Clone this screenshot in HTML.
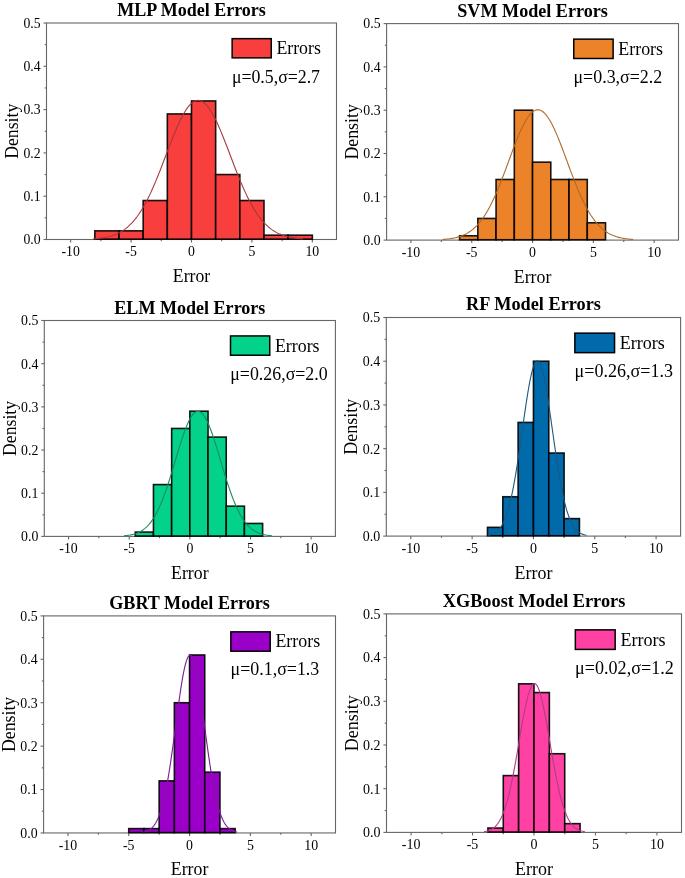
<!DOCTYPE html>
<html><head><meta charset="utf-8"><style>
html,body{margin:0;padding:0;background:#fff;}
svg{display:block;will-change:transform;}
text{font-family:"Liberation Serif", serif;fill:#000;}
</style></head><body>
<svg width="685" height="878" viewBox="0 0 685 878">
<rect width="685" height="878" fill="#fff"/>
<rect x="46.50" y="23.00" width="290.00" height="216.50" fill="none" stroke="#666" stroke-width="1.1"/>
<line x1="70.67" y1="239.50" x2="70.67" y2="242.50" stroke="#666" stroke-width="1.1"/>
<text transform="translate(70.67,256.00) scale(0.95,1.0)" text-anchor="middle" font-size="14.5">-10</text>
<line x1="131.08" y1="239.50" x2="131.08" y2="242.50" stroke="#666" stroke-width="1.1"/>
<text transform="translate(131.08,256.00) scale(0.95,1.0)" text-anchor="middle" font-size="14.5">-5</text>
<line x1="191.50" y1="239.50" x2="191.50" y2="242.50" stroke="#666" stroke-width="1.1"/>
<text transform="translate(191.50,256.00) scale(0.95,1.0)" text-anchor="middle" font-size="14.5">0</text>
<line x1="251.92" y1="239.50" x2="251.92" y2="242.50" stroke="#666" stroke-width="1.1"/>
<text transform="translate(251.92,256.00) scale(0.95,1.0)" text-anchor="middle" font-size="14.5">5</text>
<line x1="312.33" y1="239.50" x2="312.33" y2="242.50" stroke="#666" stroke-width="1.1"/>
<text transform="translate(312.33,256.00) scale(0.95,1.0)" text-anchor="middle" font-size="14.5">10</text>
<line x1="100.88" y1="239.50" x2="100.88" y2="241.30" stroke="#666" stroke-width="1.1"/>
<line x1="161.29" y1="239.50" x2="161.29" y2="241.30" stroke="#666" stroke-width="1.1"/>
<line x1="221.71" y1="239.50" x2="221.71" y2="241.30" stroke="#666" stroke-width="1.1"/>
<line x1="282.12" y1="239.50" x2="282.12" y2="241.30" stroke="#666" stroke-width="1.1"/>
<line x1="43.50" y1="239.50" x2="46.50" y2="239.50" stroke="#666" stroke-width="1.1"/>
<text transform="translate(40.60,244.30) scale(0.95,1.0)" text-anchor="end" font-size="14.5">0.0</text>
<line x1="43.50" y1="196.20" x2="46.50" y2="196.20" stroke="#666" stroke-width="1.1"/>
<text transform="translate(40.60,201.00) scale(0.95,1.0)" text-anchor="end" font-size="14.5">0.1</text>
<line x1="43.50" y1="152.90" x2="46.50" y2="152.90" stroke="#666" stroke-width="1.1"/>
<text transform="translate(40.60,157.70) scale(0.95,1.0)" text-anchor="end" font-size="14.5">0.2</text>
<line x1="43.50" y1="109.60" x2="46.50" y2="109.60" stroke="#666" stroke-width="1.1"/>
<text transform="translate(40.60,114.40) scale(0.95,1.0)" text-anchor="end" font-size="14.5">0.3</text>
<line x1="43.50" y1="66.30" x2="46.50" y2="66.30" stroke="#666" stroke-width="1.1"/>
<text transform="translate(40.60,71.10) scale(0.95,1.0)" text-anchor="end" font-size="14.5">0.4</text>
<line x1="43.50" y1="23.00" x2="46.50" y2="23.00" stroke="#666" stroke-width="1.1"/>
<text transform="translate(40.60,27.80) scale(0.95,1.0)" text-anchor="end" font-size="14.5">0.5</text>
<line x1="44.70" y1="217.85" x2="46.50" y2="217.85" stroke="#666" stroke-width="1.1"/>
<line x1="44.70" y1="174.55" x2="46.50" y2="174.55" stroke="#666" stroke-width="1.1"/>
<line x1="44.70" y1="131.25" x2="46.50" y2="131.25" stroke="#666" stroke-width="1.1"/>
<line x1="44.70" y1="87.95" x2="46.50" y2="87.95" stroke="#666" stroke-width="1.1"/>
<line x1="44.70" y1="44.65" x2="46.50" y2="44.65" stroke="#666" stroke-width="1.1"/>
<rect x="94.83" y="230.84" width="24.17" height="8.31" fill="#F93E3E" stroke="#000" stroke-opacity="0.9" stroke-width="1.6"/>
<rect x="119.00" y="230.84" width="24.17" height="8.31" fill="#F93E3E" stroke="#000" stroke-opacity="0.9" stroke-width="1.6"/>
<rect x="143.17" y="200.53" width="24.17" height="38.62" fill="#F93E3E" stroke="#000" stroke-opacity="0.9" stroke-width="1.6"/>
<rect x="167.33" y="113.93" width="24.17" height="125.22" fill="#F93E3E" stroke="#000" stroke-opacity="0.9" stroke-width="1.6"/>
<rect x="191.50" y="100.94" width="24.17" height="138.21" fill="#F93E3E" stroke="#000" stroke-opacity="0.9" stroke-width="1.6"/>
<rect x="215.67" y="174.55" width="24.17" height="64.60" fill="#F93E3E" stroke="#000" stroke-opacity="0.9" stroke-width="1.6"/>
<rect x="239.83" y="200.53" width="24.17" height="38.62" fill="#F93E3E" stroke="#000" stroke-opacity="0.9" stroke-width="1.6"/>
<rect x="264.00" y="235.17" width="24.17" height="3.98" fill="#F93E3E" stroke="#000" stroke-opacity="0.9" stroke-width="1.6"/>
<rect x="288.17" y="235.17" width="24.17" height="3.98" fill="#F93E3E" stroke="#000" stroke-opacity="0.9" stroke-width="1.6"/>
<polyline points="93.14,238.84 94.19,238.76 95.24,238.68 96.29,238.59 97.34,238.49 98.39,238.38 99.44,238.27 100.49,238.14 101.54,237.99 102.59,237.84 103.63,237.67 104.68,237.49 105.73,237.29 106.78,237.07 107.83,236.83 108.88,236.58 109.93,236.30 110.98,236.00 112.03,235.68 113.08,235.33 114.13,234.96 115.18,234.56 116.23,234.12 117.28,233.66 118.33,233.16 119.38,232.63 120.43,232.06 121.48,231.45 122.52,230.80 123.57,230.11 124.62,229.37 125.67,228.59 126.72,227.76 127.77,226.88 128.82,225.95 129.87,224.97 130.92,223.93 131.97,222.84 133.02,221.69 134.07,220.48 135.12,219.21 136.17,217.87 137.22,216.48 138.27,215.02 139.32,213.49 140.37,211.90 141.42,210.25 142.46,208.52 143.51,206.73 144.56,204.88 145.61,202.96 146.66,200.97 147.71,198.92 148.76,196.81 149.81,194.63 150.86,192.39 151.91,190.10 152.96,187.75 154.01,185.34 155.06,182.88 156.11,180.38 157.16,177.83 158.21,175.23 159.26,172.61 160.31,169.94 161.35,167.25 162.40,164.54 163.45,161.80 164.50,159.06 165.55,156.30 166.60,153.54 167.65,150.79 168.70,148.04 169.75,145.31 170.80,142.61 171.85,139.93 172.90,137.28 173.95,134.68 175.00,132.13 176.05,129.63 177.10,127.20 178.15,124.83 179.20,122.54 180.24,120.33 181.29,118.21 182.34,116.18 183.39,114.26 184.44,112.44 185.49,110.73 186.54,109.13 187.59,107.66 188.64,106.31 189.69,105.10 190.74,104.02 191.79,103.07 192.84,102.27 193.89,101.61 194.94,101.09 195.99,100.72 197.04,100.49 198.09,100.42 199.13,100.49 200.18,100.72 201.23,101.09 202.28,101.61 203.33,102.27 204.38,103.07 205.43,104.02 206.48,105.10 207.53,106.31 208.58,107.66 209.63,109.13 210.68,110.73 211.73,112.44 212.78,114.26 213.83,116.18 214.88,118.21 215.93,120.33 216.98,122.54 218.03,124.83 219.07,127.20 220.12,129.63 221.17,132.13 222.22,134.68 223.27,137.28 224.32,139.93 225.37,142.61 226.42,145.31 227.47,148.04 228.52,150.79 229.57,153.54 230.62,156.30 231.67,159.06 232.72,161.80 233.77,164.54 234.82,167.25 235.87,169.94 236.92,172.61 237.96,175.23 239.01,177.83 240.06,180.38 241.11,182.88 242.16,185.34 243.21,187.75 244.26,190.10 245.31,192.39 246.36,194.63 247.41,196.81 248.46,198.92 249.51,200.97 250.56,202.96 251.61,204.88 252.66,206.73 253.71,208.52 254.76,210.25 255.81,211.90 256.85,213.49 257.90,215.02 258.95,216.48 260.00,217.87 261.05,219.21 262.10,220.48 263.15,221.69 264.20,222.84 265.25,223.93 266.30,224.97 267.35,225.95 268.40,226.88 269.45,227.76 270.50,228.59 271.55,229.37 272.60,230.11 273.65,230.80 274.70,231.45 275.74,232.06 276.79,232.63 277.84,233.16 278.89,233.66 279.94,234.12 280.99,234.56 282.04,234.96 283.09,235.33 284.14,235.68 285.19,236.00 286.24,236.30 287.29,236.58 288.34,236.83 289.39,237.07 290.44,237.29 291.49,237.49 292.54,237.67 293.59,237.84 294.64,237.99 295.68,238.14 296.73,238.27 297.78,238.38 298.83,238.49 299.88,238.59 300.93,238.68 301.98,238.76 303.03,238.84" fill="none" stroke="#A83A3A" stroke-width="1.1"/>
<text transform="translate(191.50,15.70)" text-anchor="middle" font-size="18.0" font-weight="bold">MLP Model Errors</text>
<text transform="translate(191.50,281.70) scale(1.0,1.04)" text-anchor="middle" font-size="17.7">Error</text>
<text transform="translate(18.00,131.25) rotate(-90) scale(1.0,1.04)" text-anchor="middle" font-size="17.7">Density</text>
<rect x="232.15" y="38.65" width="39.10" height="19.20" fill="#F93E3E" stroke="#000" stroke-width="1.5"/>
<text transform="translate(276.40,54.40) scale(1.0,1.06)" font-size="17.8">Errors</text>
<text transform="translate(231.90,82.50) scale(1.0,1.06)" font-size="17.8">μ=0.5,σ=2.7</text>
<rect x="386.60" y="23.60" width="291.90" height="216.50" fill="none" stroke="#666" stroke-width="1.1"/>
<line x1="410.93" y1="240.10" x2="410.93" y2="243.12" stroke="#666" stroke-width="1.1"/>
<text transform="translate(410.93,256.71) scale(0.95,1.0)" text-anchor="middle" font-size="14.594999999999999">-10</text>
<line x1="471.74" y1="240.10" x2="471.74" y2="243.12" stroke="#666" stroke-width="1.1"/>
<text transform="translate(471.74,256.71) scale(0.95,1.0)" text-anchor="middle" font-size="14.594999999999999">-5</text>
<line x1="532.55" y1="240.10" x2="532.55" y2="243.12" stroke="#666" stroke-width="1.1"/>
<text transform="translate(532.55,256.71) scale(0.95,1.0)" text-anchor="middle" font-size="14.594999999999999">0</text>
<line x1="593.36" y1="240.10" x2="593.36" y2="243.12" stroke="#666" stroke-width="1.1"/>
<text transform="translate(593.36,256.71) scale(0.95,1.0)" text-anchor="middle" font-size="14.594999999999999">5</text>
<line x1="654.17" y1="240.10" x2="654.17" y2="243.12" stroke="#666" stroke-width="1.1"/>
<text transform="translate(654.17,256.71) scale(0.95,1.0)" text-anchor="middle" font-size="14.594999999999999">10</text>
<line x1="441.33" y1="240.10" x2="441.33" y2="241.91" stroke="#666" stroke-width="1.1"/>
<line x1="502.14" y1="240.10" x2="502.14" y2="241.91" stroke="#666" stroke-width="1.1"/>
<line x1="562.96" y1="240.10" x2="562.96" y2="241.91" stroke="#666" stroke-width="1.1"/>
<line x1="623.77" y1="240.10" x2="623.77" y2="241.91" stroke="#666" stroke-width="1.1"/>
<line x1="383.58" y1="240.10" x2="386.60" y2="240.10" stroke="#666" stroke-width="1.1"/>
<text transform="translate(380.66,244.93) scale(0.95,1.0)" text-anchor="end" font-size="14.594999999999999">0.0</text>
<line x1="383.58" y1="196.80" x2="386.60" y2="196.80" stroke="#666" stroke-width="1.1"/>
<text transform="translate(380.66,201.63) scale(0.95,1.0)" text-anchor="end" font-size="14.594999999999999">0.1</text>
<line x1="383.58" y1="153.50" x2="386.60" y2="153.50" stroke="#666" stroke-width="1.1"/>
<text transform="translate(380.66,158.33) scale(0.95,1.0)" text-anchor="end" font-size="14.594999999999999">0.2</text>
<line x1="383.58" y1="110.20" x2="386.60" y2="110.20" stroke="#666" stroke-width="1.1"/>
<text transform="translate(380.66,115.03) scale(0.95,1.0)" text-anchor="end" font-size="14.594999999999999">0.3</text>
<line x1="383.58" y1="66.90" x2="386.60" y2="66.90" stroke="#666" stroke-width="1.1"/>
<text transform="translate(380.66,71.73) scale(0.95,1.0)" text-anchor="end" font-size="14.594999999999999">0.4</text>
<line x1="383.58" y1="23.60" x2="386.60" y2="23.60" stroke="#666" stroke-width="1.1"/>
<text transform="translate(380.66,28.43) scale(0.95,1.0)" text-anchor="end" font-size="14.594999999999999">0.5</text>
<line x1="384.79" y1="218.45" x2="386.60" y2="218.45" stroke="#666" stroke-width="1.1"/>
<line x1="384.79" y1="175.15" x2="386.60" y2="175.15" stroke="#666" stroke-width="1.1"/>
<line x1="384.79" y1="131.85" x2="386.60" y2="131.85" stroke="#666" stroke-width="1.1"/>
<line x1="384.79" y1="88.55" x2="386.60" y2="88.55" stroke="#666" stroke-width="1.1"/>
<line x1="384.79" y1="45.25" x2="386.60" y2="45.25" stroke="#666" stroke-width="1.1"/>
<rect x="459.58" y="235.77" width="18.24" height="3.98" fill="#ED8329" stroke="#000" stroke-opacity="0.9" stroke-width="1.6"/>
<rect x="477.82" y="218.45" width="18.24" height="21.30" fill="#ED8329" stroke="#000" stroke-opacity="0.9" stroke-width="1.6"/>
<rect x="496.06" y="179.48" width="18.24" height="60.27" fill="#ED8329" stroke="#000" stroke-opacity="0.9" stroke-width="1.6"/>
<rect x="514.31" y="110.20" width="18.24" height="129.55" fill="#ED8329" stroke="#000" stroke-opacity="0.9" stroke-width="1.6"/>
<rect x="532.55" y="162.16" width="18.24" height="77.59" fill="#ED8329" stroke="#000" stroke-opacity="0.9" stroke-width="1.6"/>
<rect x="550.79" y="179.48" width="18.24" height="60.27" fill="#ED8329" stroke="#000" stroke-opacity="0.9" stroke-width="1.6"/>
<rect x="569.04" y="179.48" width="18.24" height="60.27" fill="#ED8329" stroke="#000" stroke-opacity="0.9" stroke-width="1.6"/>
<rect x="587.28" y="222.78" width="18.24" height="16.97" fill="#ED8329" stroke="#000" stroke-opacity="0.9" stroke-width="1.6"/>
<polyline points="442.60,239.48 443.55,239.41 444.51,239.33 445.46,239.25 446.41,239.16 447.36,239.05 448.32,238.94 449.27,238.82 450.22,238.69 451.17,238.54 452.13,238.38 453.08,238.21 454.03,238.03 454.98,237.82 455.94,237.60 456.89,237.36 457.84,237.10 458.79,236.82 459.75,236.52 460.70,236.19 461.65,235.84 462.60,235.47 463.56,235.06 464.51,234.63 465.46,234.16 466.41,233.66 467.37,233.12 468.32,232.55 469.27,231.95 470.22,231.30 471.18,230.61 472.13,229.88 473.08,229.10 474.03,228.28 474.99,227.41 475.94,226.48 476.89,225.51 477.84,224.49 478.80,223.41 479.75,222.27 480.70,221.08 481.65,219.83 482.61,218.52 483.56,217.16 484.51,215.73 485.46,214.24 486.42,212.69 487.37,211.07 488.32,209.40 489.27,207.66 490.23,205.86 491.18,204.00 492.13,202.07 493.08,200.09 494.04,198.05 494.99,195.96 495.94,193.81 496.89,191.60 497.85,189.35 498.80,187.04 499.75,184.70 500.70,182.31 501.66,179.88 502.61,177.41 503.56,174.92 504.51,172.40 505.47,169.85 506.42,167.29 507.37,164.71 508.32,162.13 509.28,159.55 510.23,156.97 511.18,154.39 512.13,151.84 513.09,149.30 514.04,146.79 514.99,144.31 515.94,141.87 516.90,139.48 517.85,137.14 518.80,134.86 519.75,132.64 520.71,130.50 521.66,128.43 522.61,126.44 523.56,124.54 524.52,122.73 525.47,121.03 526.42,119.42 527.38,117.93 528.33,116.55 529.28,115.29 530.23,114.15 531.19,113.14 532.14,112.25 533.09,111.50 534.04,110.88 535.00,110.39 535.95,110.05 536.90,109.84 537.85,109.77 538.81,109.84 539.76,110.05 540.71,110.39 541.66,110.88 542.62,111.50 543.57,112.25 544.52,113.14 545.47,114.15 546.43,115.29 547.38,116.55 548.33,117.93 549.28,119.42 550.24,121.03 551.19,122.73 552.14,124.54 553.09,126.44 554.05,128.43 555.00,130.50 555.95,132.64 556.90,134.86 557.86,137.14 558.81,139.48 559.76,141.87 560.71,144.31 561.67,146.79 562.62,149.30 563.57,151.84 564.52,154.39 565.48,156.97 566.43,159.55 567.38,162.13 568.33,164.71 569.29,167.29 570.24,169.85 571.19,172.40 572.14,174.92 573.10,177.41 574.05,179.88 575.00,182.31 575.95,184.70 576.91,187.04 577.86,189.35 578.81,191.60 579.76,193.81 580.72,195.96 581.67,198.05 582.62,200.09 583.57,202.07 584.53,204.00 585.48,205.86 586.43,207.66 587.38,209.40 588.34,211.07 589.29,212.69 590.24,214.24 591.19,215.73 592.15,217.16 593.10,218.52 594.05,219.83 595.00,221.08 595.96,222.27 596.91,223.41 597.86,224.49 598.81,225.51 599.77,226.48 600.72,227.41 601.67,228.28 602.62,229.10 603.58,229.88 604.53,230.61 605.48,231.30 606.43,231.95 607.39,232.55 608.34,233.12 609.29,233.66 610.24,234.16 611.20,234.63 612.15,235.06 613.10,235.47 614.05,235.84 615.01,236.19 615.96,236.52 616.91,236.82 617.86,237.10 618.82,237.36 619.77,237.60 620.72,237.82 621.67,238.03 622.63,238.21 623.58,238.38 624.53,238.54 625.49,238.69 626.44,238.82 627.39,238.94 628.34,239.05 629.30,239.16 630.25,239.25 631.20,239.33 632.15,239.41 633.11,239.48" fill="none" stroke="#AC6A2C" stroke-width="1.1"/>
<text transform="translate(532.55,16.85)" text-anchor="middle" font-size="18.11793103448276" font-weight="bold">SVM Model Errors</text>
<text transform="translate(532.55,282.58) scale(1.0,1.04)" text-anchor="middle" font-size="17.815965517241377">Error</text>
<text transform="translate(357.91,131.85) rotate(-90) scale(1.0,1.04)" text-anchor="middle" font-size="17.815965517241377">Density</text>
<rect x="573.75" y="39.15" width="39.37" height="19.34" fill="#ED8329" stroke="#000" stroke-width="1.5"/>
<text transform="translate(618.29,55.30) scale(1.0,1.06)" font-size="17.916620689655172">Errors</text>
<text transform="translate(573.50,82.80) scale(1.0,1.06)" font-size="17.916620689655172">μ=0.3,σ=2.2</text>
<rect x="44.30" y="320.50" width="291.10" height="215.90" fill="none" stroke="#666" stroke-width="1.1"/>
<line x1="68.56" y1="536.40" x2="68.56" y2="539.41" stroke="#666" stroke-width="1.1"/>
<text transform="translate(68.56,552.96) scale(0.95,1.0)" text-anchor="middle" font-size="14.554999999999996">-10</text>
<line x1="129.20" y1="536.40" x2="129.20" y2="539.41" stroke="#666" stroke-width="1.1"/>
<text transform="translate(129.20,552.96) scale(0.95,1.0)" text-anchor="middle" font-size="14.554999999999996">-5</text>
<line x1="189.85" y1="536.40" x2="189.85" y2="539.41" stroke="#666" stroke-width="1.1"/>
<text transform="translate(189.85,552.96) scale(0.95,1.0)" text-anchor="middle" font-size="14.554999999999996">0</text>
<line x1="250.50" y1="536.40" x2="250.50" y2="539.41" stroke="#666" stroke-width="1.1"/>
<text transform="translate(250.50,552.96) scale(0.95,1.0)" text-anchor="middle" font-size="14.554999999999996">5</text>
<line x1="311.14" y1="536.40" x2="311.14" y2="539.41" stroke="#666" stroke-width="1.1"/>
<text transform="translate(311.14,552.96) scale(0.95,1.0)" text-anchor="middle" font-size="14.554999999999996">10</text>
<line x1="98.88" y1="536.40" x2="98.88" y2="538.21" stroke="#666" stroke-width="1.1"/>
<line x1="159.53" y1="536.40" x2="159.53" y2="538.21" stroke="#666" stroke-width="1.1"/>
<line x1="220.17" y1="536.40" x2="220.17" y2="538.21" stroke="#666" stroke-width="1.1"/>
<line x1="280.82" y1="536.40" x2="280.82" y2="538.21" stroke="#666" stroke-width="1.1"/>
<line x1="41.29" y1="536.40" x2="44.30" y2="536.40" stroke="#666" stroke-width="1.1"/>
<text transform="translate(38.38,541.22) scale(0.95,1.0)" text-anchor="end" font-size="14.554999999999996">0.0</text>
<line x1="41.29" y1="493.22" x2="44.30" y2="493.22" stroke="#666" stroke-width="1.1"/>
<text transform="translate(38.38,498.04) scale(0.95,1.0)" text-anchor="end" font-size="14.554999999999996">0.1</text>
<line x1="41.29" y1="450.04" x2="44.30" y2="450.04" stroke="#666" stroke-width="1.1"/>
<text transform="translate(38.38,454.86) scale(0.95,1.0)" text-anchor="end" font-size="14.554999999999996">0.2</text>
<line x1="41.29" y1="406.86" x2="44.30" y2="406.86" stroke="#666" stroke-width="1.1"/>
<text transform="translate(38.38,411.68) scale(0.95,1.0)" text-anchor="end" font-size="14.554999999999996">0.3</text>
<line x1="41.29" y1="363.68" x2="44.30" y2="363.68" stroke="#666" stroke-width="1.1"/>
<text transform="translate(38.38,368.50) scale(0.95,1.0)" text-anchor="end" font-size="14.554999999999996">0.4</text>
<line x1="41.29" y1="320.50" x2="44.30" y2="320.50" stroke="#666" stroke-width="1.1"/>
<text transform="translate(38.38,325.32) scale(0.95,1.0)" text-anchor="end" font-size="14.554999999999996">0.5</text>
<line x1="42.49" y1="514.81" x2="44.30" y2="514.81" stroke="#666" stroke-width="1.1"/>
<line x1="42.49" y1="471.63" x2="44.30" y2="471.63" stroke="#666" stroke-width="1.1"/>
<line x1="42.49" y1="428.45" x2="44.30" y2="428.45" stroke="#666" stroke-width="1.1"/>
<line x1="42.49" y1="385.27" x2="44.30" y2="385.27" stroke="#666" stroke-width="1.1"/>
<line x1="42.49" y1="342.09" x2="44.30" y2="342.09" stroke="#666" stroke-width="1.1"/>
<rect x="135.27" y="532.08" width="18.19" height="3.97" fill="#02D28A" stroke="#000" stroke-opacity="0.9" stroke-width="1.6"/>
<rect x="153.46" y="484.58" width="18.19" height="51.47" fill="#02D28A" stroke="#000" stroke-opacity="0.9" stroke-width="1.6"/>
<rect x="171.66" y="428.45" width="18.19" height="107.60" fill="#02D28A" stroke="#000" stroke-opacity="0.9" stroke-width="1.6"/>
<rect x="189.85" y="411.18" width="18.19" height="124.87" fill="#02D28A" stroke="#000" stroke-opacity="0.9" stroke-width="1.6"/>
<rect x="208.04" y="437.09" width="18.19" height="98.96" fill="#02D28A" stroke="#000" stroke-opacity="0.9" stroke-width="1.6"/>
<rect x="226.24" y="506.17" width="18.19" height="29.88" fill="#02D28A" stroke="#000" stroke-opacity="0.9" stroke-width="1.6"/>
<rect x="244.43" y="523.45" width="18.19" height="12.60" fill="#02D28A" stroke="#000" stroke-opacity="0.9" stroke-width="1.6"/>
<polyline points="123.98,535.80 124.72,535.74 125.46,535.66 126.20,535.58 126.94,535.49 127.68,535.40 128.42,535.29 129.16,535.17 129.90,535.05 130.64,534.91 131.38,534.75 132.12,534.59 132.86,534.41 133.60,534.21 134.34,534.00 135.08,533.77 135.82,533.52 136.56,533.26 137.30,532.97 138.04,532.65 138.78,532.32 139.52,531.95 140.26,531.56 141.00,531.15 141.73,530.70 142.47,530.22 143.21,529.71 143.95,529.16 144.69,528.58 145.43,527.96 146.17,527.29 146.91,526.59 147.65,525.85 148.39,525.06 149.13,524.22 149.87,523.34 150.61,522.40 151.35,521.42 152.09,520.38 152.83,519.30 153.57,518.15 154.31,516.95 155.05,515.70 155.79,514.39 156.53,513.02 157.27,511.59 158.01,510.10 158.75,508.55 159.49,506.94 160.23,505.27 160.97,503.55 161.71,501.76 162.45,499.92 163.19,498.01 163.93,496.06 164.67,494.05 165.41,491.98 166.15,489.87 166.88,487.70 167.62,485.49 168.36,483.24 169.10,480.95 169.84,478.62 170.58,476.25 171.32,473.86 172.06,471.44 172.80,469.00 173.54,466.54 174.28,464.07 175.02,461.59 175.76,459.11 176.50,456.64 177.24,454.17 177.98,451.71 178.72,449.28 179.46,446.87 180.20,444.50 180.94,442.16 181.68,439.86 182.42,437.62 183.16,435.43 183.90,433.30 184.64,431.24 185.38,429.25 186.12,427.35 186.86,425.52 187.60,423.79 188.34,422.15 189.08,420.62 189.82,419.18 190.56,417.86 191.29,416.65 192.03,415.56 192.77,414.58 193.51,413.73 194.25,413.01 194.99,412.42 195.73,411.95 196.47,411.62 197.21,411.42 197.95,411.35 198.69,411.42 199.43,411.62 200.17,411.95 200.91,412.42 201.65,413.01 202.39,413.73 203.13,414.58 203.87,415.56 204.61,416.65 205.35,417.86 206.09,419.18 206.83,420.62 207.57,422.15 208.31,423.79 209.05,425.52 209.79,427.35 210.53,429.25 211.27,431.24 212.01,433.30 212.75,435.43 213.49,437.62 214.23,439.86 214.97,442.16 215.71,444.50 216.44,446.87 217.18,449.28 217.92,451.71 218.66,454.17 219.40,456.64 220.14,459.11 220.88,461.59 221.62,464.07 222.36,466.54 223.10,469.00 223.84,471.44 224.58,473.86 225.32,476.25 226.06,478.62 226.80,480.95 227.54,483.24 228.28,485.49 229.02,487.70 229.76,489.87 230.50,491.98 231.24,494.05 231.98,496.06 232.72,498.01 233.46,499.92 234.20,501.76 234.94,503.55 235.68,505.27 236.42,506.94 237.16,508.55 237.90,510.10 238.64,511.59 239.38,513.02 240.12,514.39 240.86,515.70 241.59,516.95 242.33,518.15 243.07,519.30 243.81,520.38 244.55,521.42 245.29,522.40 246.03,523.34 246.77,524.22 247.51,525.06 248.25,525.85 248.99,526.59 249.73,527.29 250.47,527.96 251.21,528.58 251.95,529.16 252.69,529.71 253.43,530.22 254.17,530.70 254.91,531.15 255.65,531.56 256.39,531.95 257.13,532.32 257.87,532.65 258.61,532.97 259.35,533.26 260.09,533.52 260.83,533.77 261.57,534.00 262.31,534.21 263.05,534.41 263.79,534.59 264.53,534.75 265.27,534.91 266.00,535.05 266.74,535.17 267.48,535.29 268.22,535.40 268.96,535.49 269.70,535.58 270.44,535.66 271.18,535.74 271.92,535.80" fill="none" stroke="#1E8A5E" stroke-width="1.1"/>
<text transform="translate(189.85,314.07)" text-anchor="middle" font-size="18.068275862068962" font-weight="bold">ELM Model Errors</text>
<text transform="translate(189.85,578.76) scale(1.0,1.04)" text-anchor="middle" font-size="17.76713793103448">Error</text>
<text transform="translate(15.69,428.45) rotate(-90) scale(1.0,1.04)" text-anchor="middle" font-size="17.76713793103448">Density</text>
<rect x="230.50" y="335.95" width="39.25" height="19.28" fill="#02D28A" stroke="#000" stroke-width="1.5"/>
<text transform="translate(274.92,351.70) scale(1.0,1.06)" font-size="17.867517241379307">Errors</text>
<text transform="translate(230.25,379.50) scale(1.0,1.06)" font-size="17.867517241379307">μ=0.26,σ=2.0</text>
<rect x="386.30" y="317.50" width="294.30" height="218.60" fill="none" stroke="#666" stroke-width="1.1"/>
<line x1="410.82" y1="536.10" x2="410.82" y2="539.14" stroke="#666" stroke-width="1.1"/>
<text transform="translate(410.82,552.84) scale(0.95,1.0)" text-anchor="middle" font-size="14.715">-10</text>
<line x1="472.14" y1="536.10" x2="472.14" y2="539.14" stroke="#666" stroke-width="1.1"/>
<text transform="translate(472.14,552.84) scale(0.95,1.0)" text-anchor="middle" font-size="14.715">-5</text>
<line x1="533.45" y1="536.10" x2="533.45" y2="539.14" stroke="#666" stroke-width="1.1"/>
<text transform="translate(533.45,552.84) scale(0.95,1.0)" text-anchor="middle" font-size="14.715">0</text>
<line x1="594.76" y1="536.10" x2="594.76" y2="539.14" stroke="#666" stroke-width="1.1"/>
<text transform="translate(594.76,552.84) scale(0.95,1.0)" text-anchor="middle" font-size="14.715">5</text>
<line x1="656.08" y1="536.10" x2="656.08" y2="539.14" stroke="#666" stroke-width="1.1"/>
<text transform="translate(656.08,552.84) scale(0.95,1.0)" text-anchor="middle" font-size="14.715">10</text>
<line x1="441.48" y1="536.10" x2="441.48" y2="537.93" stroke="#666" stroke-width="1.1"/>
<line x1="502.79" y1="536.10" x2="502.79" y2="537.93" stroke="#666" stroke-width="1.1"/>
<line x1="564.11" y1="536.10" x2="564.11" y2="537.93" stroke="#666" stroke-width="1.1"/>
<line x1="625.42" y1="536.10" x2="625.42" y2="537.93" stroke="#666" stroke-width="1.1"/>
<line x1="383.26" y1="536.10" x2="386.30" y2="536.10" stroke="#666" stroke-width="1.1"/>
<text transform="translate(380.31,540.97) scale(0.95,1.0)" text-anchor="end" font-size="14.715">0.0</text>
<line x1="383.26" y1="492.38" x2="386.30" y2="492.38" stroke="#666" stroke-width="1.1"/>
<text transform="translate(380.31,497.25) scale(0.95,1.0)" text-anchor="end" font-size="14.715">0.1</text>
<line x1="383.26" y1="448.66" x2="386.30" y2="448.66" stroke="#666" stroke-width="1.1"/>
<text transform="translate(380.31,453.53) scale(0.95,1.0)" text-anchor="end" font-size="14.715">0.2</text>
<line x1="383.26" y1="404.94" x2="386.30" y2="404.94" stroke="#666" stroke-width="1.1"/>
<text transform="translate(380.31,409.81) scale(0.95,1.0)" text-anchor="end" font-size="14.715">0.3</text>
<line x1="383.26" y1="361.22" x2="386.30" y2="361.22" stroke="#666" stroke-width="1.1"/>
<text transform="translate(380.31,366.09) scale(0.95,1.0)" text-anchor="end" font-size="14.715">0.4</text>
<line x1="383.26" y1="317.50" x2="386.30" y2="317.50" stroke="#666" stroke-width="1.1"/>
<text transform="translate(380.31,322.37) scale(0.95,1.0)" text-anchor="end" font-size="14.715">0.5</text>
<line x1="384.47" y1="514.24" x2="386.30" y2="514.24" stroke="#666" stroke-width="1.1"/>
<line x1="384.47" y1="470.52" x2="386.30" y2="470.52" stroke="#666" stroke-width="1.1"/>
<line x1="384.47" y1="426.80" x2="386.30" y2="426.80" stroke="#666" stroke-width="1.1"/>
<line x1="384.47" y1="383.08" x2="386.30" y2="383.08" stroke="#666" stroke-width="1.1"/>
<line x1="384.47" y1="339.36" x2="386.30" y2="339.36" stroke="#666" stroke-width="1.1"/>
<rect x="487.47" y="527.36" width="15.33" height="8.39" fill="#006AAA" stroke="#000" stroke-opacity="0.9" stroke-width="1.6"/>
<rect x="502.79" y="496.75" width="15.33" height="39.00" fill="#006AAA" stroke="#000" stroke-opacity="0.9" stroke-width="1.6"/>
<rect x="518.12" y="422.43" width="15.33" height="113.32" fill="#006AAA" stroke="#000" stroke-opacity="0.9" stroke-width="1.6"/>
<rect x="533.45" y="361.22" width="15.33" height="174.53" fill="#006AAA" stroke="#000" stroke-opacity="0.9" stroke-width="1.6"/>
<rect x="548.78" y="453.03" width="15.33" height="82.72" fill="#006AAA" stroke="#000" stroke-opacity="0.9" stroke-width="1.6"/>
<rect x="564.11" y="518.61" width="15.33" height="17.14" fill="#006AAA" stroke="#000" stroke-opacity="0.9" stroke-width="1.6"/>
<polyline points="488.24,535.27 488.73,535.17 489.22,535.07 489.71,534.95 490.21,534.83 490.70,534.69 491.19,534.54 491.68,534.38 492.17,534.20 492.66,534.01 493.15,533.79 493.64,533.56 494.14,533.31 494.63,533.04 495.12,532.74 495.61,532.42 496.10,532.07 496.59,531.69 497.08,531.29 497.57,530.85 498.07,530.38 498.56,529.87 499.05,529.32 499.54,528.74 500.03,528.11 500.52,527.44 501.01,526.72 501.50,525.96 501.99,525.14 502.49,524.27 502.98,523.34 503.47,522.36 503.96,521.31 504.45,520.20 504.94,519.03 505.43,517.79 505.92,516.49 506.42,515.11 506.91,513.66 507.40,512.13 507.89,510.53 508.38,508.85 508.87,507.09 509.36,505.25 509.85,503.33 510.35,501.33 510.84,499.24 511.33,497.07 511.82,494.82 512.31,492.48 512.80,490.06 513.29,487.56 513.78,484.97 514.28,482.31 514.77,479.57 515.26,476.75 515.75,473.86 516.24,470.89 516.73,467.86 517.22,464.77 517.71,461.61 518.20,458.40 518.70,455.13 519.19,451.82 519.68,448.46 520.17,445.07 520.66,441.65 521.15,438.21 521.64,434.75 522.13,431.27 522.63,427.80 523.12,424.33 523.61,420.87 524.10,417.43 524.59,414.02 525.08,410.65 525.57,407.32 526.06,404.04 526.56,400.82 527.05,397.68 527.54,394.61 528.03,391.63 528.52,388.74 529.01,385.96 529.50,383.28 529.99,380.73 530.48,378.30 530.98,376.01 531.47,373.85 531.96,371.85 532.45,369.99 532.94,368.30 533.43,366.76 533.92,365.40 534.41,364.21 534.91,363.20 535.40,362.36 535.89,361.71 536.38,361.24 536.87,360.96 537.36,360.87 537.85,360.96 538.34,361.24 538.84,361.71 539.33,362.36 539.82,363.20 540.31,364.21 540.80,365.40 541.29,366.76 541.78,368.30 542.27,369.99 542.76,371.85 543.26,373.85 543.75,376.01 544.24,378.30 544.73,380.73 545.22,383.28 545.71,385.96 546.20,388.74 546.69,391.63 547.19,394.61 547.68,397.68 548.17,400.82 548.66,404.04 549.15,407.32 549.64,410.65 550.13,414.02 550.62,417.43 551.12,420.87 551.61,424.33 552.10,427.80 552.59,431.27 553.08,434.75 553.57,438.21 554.06,441.65 554.55,445.07 555.05,448.46 555.54,451.82 556.03,455.13 556.52,458.40 557.01,461.61 557.50,464.77 557.99,467.86 558.48,470.89 558.97,473.86 559.47,476.75 559.96,479.57 560.45,482.31 560.94,484.97 561.43,487.56 561.92,490.06 562.41,492.48 562.90,494.82 563.40,497.07 563.89,499.24 564.38,501.33 564.87,503.33 565.36,505.25 565.85,507.09 566.34,508.85 566.83,510.53 567.33,512.13 567.82,513.66 568.31,515.11 568.80,516.49 569.29,517.79 569.78,519.03 570.27,520.20 570.76,521.31 571.25,522.36 571.75,523.34 572.24,524.27 572.73,525.14 573.22,525.96 573.71,526.72 574.20,527.44 574.69,528.11 575.18,528.74 575.68,529.32 576.17,529.87 576.66,530.38 577.15,530.85 577.64,531.29 578.13,531.69 578.62,532.07 579.11,532.42 579.61,532.74 580.10,533.04 580.59,533.31 581.08,533.56 581.57,533.79 582.06,534.01 582.55,534.20 583.04,534.38 583.54,534.54 584.03,534.69 584.52,534.83 585.01,534.95 585.50,535.07 585.99,535.17 586.48,535.27" fill="none" stroke="#1A5A80" stroke-width="1.1"/>
<text transform="translate(533.45,310.39)" text-anchor="middle" font-size="18.266896551724138" font-weight="bold">RF Model Errors</text>
<text transform="translate(533.45,578.93) scale(1.0,1.04)" text-anchor="middle" font-size="17.962448275862066">Error</text>
<text transform="translate(357.38,426.80) rotate(-90) scale(1.0,1.04)" text-anchor="middle" font-size="17.962448275862066">Density</text>
<rect x="574.85" y="333.15" width="39.70" height="19.51" fill="#006AAA" stroke="#000" stroke-width="1.5"/>
<text transform="translate(619.77,349.00) scale(1.0,1.06)" font-size="18.06393103448276">Errors</text>
<text transform="translate(574.60,377.20) scale(1.0,1.06)" font-size="18.06393103448276">μ=0.26,σ=1.3</text>
<rect x="43.60" y="615.90" width="291.90" height="217.05" fill="none" stroke="#666" stroke-width="1.1"/>
<line x1="67.92" y1="832.95" x2="67.92" y2="835.97" stroke="#666" stroke-width="1.1"/>
<text transform="translate(67.92,849.56) scale(0.95,1.0)" text-anchor="middle" font-size="14.594999999999999">-10</text>
<line x1="128.74" y1="832.95" x2="128.74" y2="835.97" stroke="#666" stroke-width="1.1"/>
<text transform="translate(128.74,849.56) scale(0.95,1.0)" text-anchor="middle" font-size="14.594999999999999">-5</text>
<line x1="189.55" y1="832.95" x2="189.55" y2="835.97" stroke="#666" stroke-width="1.1"/>
<text transform="translate(189.55,849.56) scale(0.95,1.0)" text-anchor="middle" font-size="14.594999999999999">0</text>
<line x1="250.36" y1="832.95" x2="250.36" y2="835.97" stroke="#666" stroke-width="1.1"/>
<text transform="translate(250.36,849.56) scale(0.95,1.0)" text-anchor="middle" font-size="14.594999999999999">5</text>
<line x1="311.18" y1="832.95" x2="311.18" y2="835.97" stroke="#666" stroke-width="1.1"/>
<text transform="translate(311.18,849.56) scale(0.95,1.0)" text-anchor="middle" font-size="14.594999999999999">10</text>
<line x1="98.33" y1="832.95" x2="98.33" y2="834.76" stroke="#666" stroke-width="1.1"/>
<line x1="159.14" y1="832.95" x2="159.14" y2="834.76" stroke="#666" stroke-width="1.1"/>
<line x1="219.96" y1="832.95" x2="219.96" y2="834.76" stroke="#666" stroke-width="1.1"/>
<line x1="280.77" y1="832.95" x2="280.77" y2="834.76" stroke="#666" stroke-width="1.1"/>
<line x1="40.58" y1="832.95" x2="43.60" y2="832.95" stroke="#666" stroke-width="1.1"/>
<text transform="translate(37.66,837.78) scale(0.95,1.0)" text-anchor="end" font-size="14.594999999999999">0.0</text>
<line x1="40.58" y1="789.54" x2="43.60" y2="789.54" stroke="#666" stroke-width="1.1"/>
<text transform="translate(37.66,794.37) scale(0.95,1.0)" text-anchor="end" font-size="14.594999999999999">0.1</text>
<line x1="40.58" y1="746.13" x2="43.60" y2="746.13" stroke="#666" stroke-width="1.1"/>
<text transform="translate(37.66,750.96) scale(0.95,1.0)" text-anchor="end" font-size="14.594999999999999">0.2</text>
<line x1="40.58" y1="702.72" x2="43.60" y2="702.72" stroke="#666" stroke-width="1.1"/>
<text transform="translate(37.66,707.55) scale(0.95,1.0)" text-anchor="end" font-size="14.594999999999999">0.3</text>
<line x1="40.58" y1="659.31" x2="43.60" y2="659.31" stroke="#666" stroke-width="1.1"/>
<text transform="translate(37.66,664.14) scale(0.95,1.0)" text-anchor="end" font-size="14.594999999999999">0.4</text>
<line x1="40.58" y1="615.90" x2="43.60" y2="615.90" stroke="#666" stroke-width="1.1"/>
<text transform="translate(37.66,620.73) scale(0.95,1.0)" text-anchor="end" font-size="14.594999999999999">0.5</text>
<line x1="41.79" y1="811.25" x2="43.60" y2="811.25" stroke="#666" stroke-width="1.1"/>
<line x1="41.79" y1="767.84" x2="43.60" y2="767.84" stroke="#666" stroke-width="1.1"/>
<line x1="41.79" y1="724.42" x2="43.60" y2="724.42" stroke="#666" stroke-width="1.1"/>
<line x1="41.79" y1="681.01" x2="43.60" y2="681.01" stroke="#666" stroke-width="1.1"/>
<line x1="41.79" y1="637.61" x2="43.60" y2="637.61" stroke="#666" stroke-width="1.1"/>
<rect x="128.74" y="828.61" width="15.20" height="3.99" fill="#9B00C8" stroke="#000" stroke-opacity="0.9" stroke-width="1.6"/>
<rect x="143.94" y="828.61" width="15.20" height="3.99" fill="#9B00C8" stroke="#000" stroke-opacity="0.9" stroke-width="1.6"/>
<rect x="159.14" y="780.86" width="15.20" height="51.74" fill="#9B00C8" stroke="#000" stroke-opacity="0.9" stroke-width="1.6"/>
<rect x="174.35" y="702.72" width="15.20" height="129.88" fill="#9B00C8" stroke="#000" stroke-opacity="0.9" stroke-width="1.6"/>
<rect x="189.55" y="654.97" width="15.20" height="177.63" fill="#9B00C8" stroke="#000" stroke-opacity="0.9" stroke-width="1.6"/>
<rect x="204.75" y="772.18" width="15.20" height="60.42" fill="#9B00C8" stroke="#000" stroke-opacity="0.9" stroke-width="1.6"/>
<rect x="219.96" y="828.61" width="15.20" height="3.99" fill="#9B00C8" stroke="#000" stroke-opacity="0.9" stroke-width="1.6"/>
<polyline points="143.15,832.10 143.62,832.01 144.09,831.90 144.56,831.79 145.03,831.66 145.50,831.52 145.97,831.37 146.44,831.21 146.91,831.02 147.38,830.83 147.85,830.61 148.32,830.38 148.79,830.12 149.26,829.84 149.73,829.54 150.19,829.22 150.66,828.86 151.13,828.48 151.60,828.07 152.07,827.63 152.54,827.15 153.01,826.63 153.48,826.08 153.95,825.48 154.42,824.85 154.89,824.17 155.36,823.44 155.83,822.66 156.30,821.83 156.76,820.95 157.23,820.01 157.70,819.01 158.17,817.95 158.64,816.83 159.11,815.64 159.58,814.38 160.05,813.06 160.52,811.66 160.99,810.19 161.46,808.64 161.93,807.02 162.40,805.31 162.87,803.53 163.33,801.66 163.80,799.72 164.27,797.68 164.74,795.57 165.21,793.37 165.68,791.08 166.15,788.71 166.62,786.26 167.09,783.72 167.56,781.10 168.03,778.40 168.50,775.62 168.97,772.76 169.44,769.82 169.91,766.82 170.37,763.74 170.84,760.60 171.31,757.40 171.78,754.14 172.25,750.83 172.72,747.47 173.19,744.07 173.66,740.63 174.13,737.16 174.60,733.67 175.07,730.16 175.54,726.63 176.01,723.11 176.48,719.59 176.94,716.08 177.41,712.59 177.88,709.13 178.35,705.71 178.82,702.33 179.29,699.01 179.76,695.75 180.23,692.56 180.70,689.45 181.17,686.42 181.64,683.50 182.11,680.67 182.58,677.96 183.05,675.37 183.51,672.91 183.98,670.58 184.45,668.40 184.92,666.36 185.39,664.48 185.86,662.76 186.33,661.21 186.80,659.82 187.27,658.62 187.74,657.59 188.21,656.74 188.68,656.08 189.15,655.61 189.62,655.32 190.09,655.23 190.55,655.32 191.02,655.61 191.49,656.08 191.96,656.74 192.43,657.59 192.90,658.62 193.37,659.82 193.84,661.21 194.31,662.76 194.78,664.48 195.25,666.36 195.72,668.40 196.19,670.58 196.66,672.91 197.12,675.37 197.59,677.96 198.06,680.67 198.53,683.50 199.00,686.42 199.47,689.45 199.94,692.56 200.41,695.75 200.88,699.01 201.35,702.33 201.82,705.71 202.29,709.13 202.76,712.59 203.23,716.08 203.69,719.59 204.16,723.11 204.63,726.63 205.10,730.16 205.57,733.67 206.04,737.16 206.51,740.63 206.98,744.07 207.45,747.47 207.92,750.83 208.39,754.14 208.86,757.40 209.33,760.60 209.80,763.74 210.27,766.82 210.73,769.82 211.20,772.76 211.67,775.62 212.14,778.40 212.61,781.10 213.08,783.72 213.55,786.26 214.02,788.71 214.49,791.08 214.96,793.37 215.43,795.57 215.90,797.68 216.37,799.72 216.84,801.66 217.30,803.53 217.77,805.31 218.24,807.02 218.71,808.64 219.18,810.19 219.65,811.66 220.12,813.06 220.59,814.38 221.06,815.64 221.53,816.83 222.00,817.95 222.47,819.01 222.94,820.01 223.41,820.95 223.87,821.83 224.34,822.66 224.81,823.44 225.28,824.17 225.75,824.85 226.22,825.48 226.69,826.08 227.16,826.63 227.63,827.15 228.10,827.63 228.57,828.07 229.04,828.48 229.51,828.86 229.98,829.22 230.45,829.54 230.91,829.84 231.38,830.12 231.85,830.38 232.32,830.61 232.79,830.83 233.26,831.02 233.73,831.21 234.20,831.37 234.67,831.52 235.14,831.66 235.61,831.79 236.08,831.90 236.55,832.01 237.02,832.10" fill="none" stroke="#7A1A9A" stroke-width="1.1"/>
<text transform="translate(189.55,609.45)" text-anchor="middle" font-size="18.11793103448276" font-weight="bold">GBRT Model Errors</text>
<text transform="translate(189.55,875.43) scale(1.0,1.04)" text-anchor="middle" font-size="17.815965517241377">Error</text>
<text transform="translate(14.91,724.42) rotate(-90) scale(1.0,1.04)" text-anchor="middle" font-size="17.815965517241377">Density</text>
<rect x="230.85" y="631.85" width="39.37" height="19.34" fill="#9B00C8" stroke="#000" stroke-width="1.5"/>
<text transform="translate(275.39,647.40) scale(1.0,1.06)" font-size="17.916620689655172">Errors</text>
<text transform="translate(230.60,674.70) scale(1.0,1.06)" font-size="17.916620689655172">μ=0.1,σ=1.3</text>
<rect x="386.50" y="613.90" width="295.00" height="218.50" fill="none" stroke="#666" stroke-width="1.1"/>
<line x1="411.08" y1="832.40" x2="411.08" y2="835.45" stroke="#666" stroke-width="1.1"/>
<text transform="translate(411.08,849.18) scale(0.95,1.0)" text-anchor="middle" font-size="14.749999999999998">-10</text>
<line x1="472.54" y1="832.40" x2="472.54" y2="835.45" stroke="#666" stroke-width="1.1"/>
<text transform="translate(472.54,849.18) scale(0.95,1.0)" text-anchor="middle" font-size="14.749999999999998">-5</text>
<line x1="534.00" y1="832.40" x2="534.00" y2="835.45" stroke="#666" stroke-width="1.1"/>
<text transform="translate(534.00,849.18) scale(0.95,1.0)" text-anchor="middle" font-size="14.749999999999998">0</text>
<line x1="595.46" y1="832.40" x2="595.46" y2="835.45" stroke="#666" stroke-width="1.1"/>
<text transform="translate(595.46,849.18) scale(0.95,1.0)" text-anchor="middle" font-size="14.749999999999998">5</text>
<line x1="656.92" y1="832.40" x2="656.92" y2="835.45" stroke="#666" stroke-width="1.1"/>
<text transform="translate(656.92,849.18) scale(0.95,1.0)" text-anchor="middle" font-size="14.749999999999998">10</text>
<line x1="441.81" y1="832.40" x2="441.81" y2="834.23" stroke="#666" stroke-width="1.1"/>
<line x1="503.27" y1="832.40" x2="503.27" y2="834.23" stroke="#666" stroke-width="1.1"/>
<line x1="564.73" y1="832.40" x2="564.73" y2="834.23" stroke="#666" stroke-width="1.1"/>
<line x1="626.19" y1="832.40" x2="626.19" y2="834.23" stroke="#666" stroke-width="1.1"/>
<line x1="383.45" y1="832.40" x2="386.50" y2="832.40" stroke="#666" stroke-width="1.1"/>
<text transform="translate(380.50,837.28) scale(0.95,1.0)" text-anchor="end" font-size="14.749999999999998">0.0</text>
<line x1="383.45" y1="788.70" x2="386.50" y2="788.70" stroke="#666" stroke-width="1.1"/>
<text transform="translate(380.50,793.58) scale(0.95,1.0)" text-anchor="end" font-size="14.749999999999998">0.1</text>
<line x1="383.45" y1="745.00" x2="386.50" y2="745.00" stroke="#666" stroke-width="1.1"/>
<text transform="translate(380.50,749.88) scale(0.95,1.0)" text-anchor="end" font-size="14.749999999999998">0.2</text>
<line x1="383.45" y1="701.30" x2="386.50" y2="701.30" stroke="#666" stroke-width="1.1"/>
<text transform="translate(380.50,706.18) scale(0.95,1.0)" text-anchor="end" font-size="14.749999999999998">0.3</text>
<line x1="383.45" y1="657.60" x2="386.50" y2="657.60" stroke="#666" stroke-width="1.1"/>
<text transform="translate(380.50,662.48) scale(0.95,1.0)" text-anchor="end" font-size="14.749999999999998">0.4</text>
<line x1="383.45" y1="613.90" x2="386.50" y2="613.90" stroke="#666" stroke-width="1.1"/>
<text transform="translate(380.50,618.78) scale(0.95,1.0)" text-anchor="end" font-size="14.749999999999998">0.5</text>
<line x1="384.67" y1="810.55" x2="386.50" y2="810.55" stroke="#666" stroke-width="1.1"/>
<line x1="384.67" y1="766.85" x2="386.50" y2="766.85" stroke="#666" stroke-width="1.1"/>
<line x1="384.67" y1="723.15" x2="386.50" y2="723.15" stroke="#666" stroke-width="1.1"/>
<line x1="384.67" y1="679.45" x2="386.50" y2="679.45" stroke="#666" stroke-width="1.1"/>
<line x1="384.67" y1="635.75" x2="386.50" y2="635.75" stroke="#666" stroke-width="1.1"/>
<rect x="487.91" y="828.03" width="15.36" height="4.02" fill="#FF41A3" stroke="#000" stroke-opacity="0.9" stroke-width="1.6"/>
<rect x="503.27" y="775.59" width="15.36" height="56.46" fill="#FF41A3" stroke="#000" stroke-opacity="0.9" stroke-width="1.6"/>
<rect x="518.64" y="683.82" width="15.36" height="148.23" fill="#FF41A3" stroke="#000" stroke-opacity="0.9" stroke-width="1.6"/>
<rect x="534.00" y="692.56" width="15.36" height="139.49" fill="#FF41A3" stroke="#000" stroke-opacity="0.9" stroke-width="1.6"/>
<rect x="549.36" y="753.74" width="15.36" height="78.31" fill="#FF41A3" stroke="#000" stroke-opacity="0.9" stroke-width="1.6"/>
<rect x="564.73" y="823.66" width="15.36" height="8.39" fill="#FF41A3" stroke="#000" stroke-opacity="0.9" stroke-width="1.6"/>
<polyline points="483.99,831.69 484.49,831.61 485.00,831.52 485.50,831.43 486.00,831.32 486.51,831.21 487.01,831.08 487.52,830.94 488.02,830.79 488.53,830.62 489.03,830.44 489.54,830.24 490.04,830.03 490.54,829.80 491.05,829.55 491.55,829.27 492.06,828.98 492.56,828.66 493.07,828.31 493.57,827.94 494.08,827.54 494.58,827.11 495.08,826.64 495.59,826.15 496.09,825.61 496.60,825.04 497.10,824.43 497.61,823.78 498.11,823.09 498.62,822.35 499.12,821.56 499.62,820.72 500.13,819.83 500.63,818.89 501.14,817.90 501.64,816.85 502.15,815.74 502.65,814.56 503.16,813.33 503.66,812.04 504.16,810.68 504.67,809.25 505.17,807.75 505.68,806.19 506.18,804.56 506.69,802.86 507.19,801.08 507.70,799.24 508.20,797.32 508.70,795.34 509.21,793.28 509.71,791.16 510.22,788.96 510.72,786.70 511.23,784.37 511.73,781.97 512.24,779.52 512.74,777.00 513.24,774.42 513.75,771.79 514.25,769.11 514.76,766.38 515.26,763.60 515.77,760.79 516.27,757.94 516.78,755.06 517.28,752.15 517.78,749.22 518.29,746.28 518.79,743.33 519.30,740.38 519.80,737.43 520.31,734.49 520.81,731.57 521.31,728.67 521.82,725.81 522.32,722.98 522.83,720.19 523.33,717.46 523.84,714.79 524.34,712.18 524.85,709.65 525.35,707.19 525.85,704.83 526.36,702.56 526.86,700.39 527.37,698.33 527.87,696.38 528.38,694.55 528.88,692.84 529.39,691.27 529.89,689.82 530.39,688.52 530.90,687.36 531.40,686.35 531.91,685.49 532.41,684.78 532.92,684.23 533.42,683.83 533.93,683.59 534.43,683.51 534.93,683.59 535.44,683.83 535.94,684.23 536.45,684.78 536.95,685.49 537.46,686.35 537.96,687.36 538.47,688.52 538.97,689.82 539.47,691.27 539.98,692.84 540.48,694.55 540.99,696.38 541.49,698.33 542.00,700.39 542.50,702.56 543.01,704.83 543.51,707.19 544.01,709.65 544.52,712.18 545.02,714.79 545.53,717.46 546.03,720.19 546.54,722.98 547.04,725.81 547.55,728.67 548.05,731.57 548.55,734.49 549.06,737.43 549.56,740.38 550.07,743.33 550.57,746.28 551.08,749.22 551.58,752.15 552.09,755.06 552.59,757.94 553.09,760.79 553.60,763.60 554.10,766.38 554.61,769.11 555.11,771.79 555.62,774.42 556.12,777.00 556.63,779.52 557.13,781.97 557.63,784.37 558.14,786.70 558.64,788.96 559.15,791.16 559.65,793.28 560.16,795.34 560.66,797.32 561.17,799.24 561.67,801.08 562.17,802.86 562.68,804.56 563.18,806.19 563.69,807.75 564.19,809.25 564.70,810.68 565.20,812.04 565.70,813.33 566.21,814.56 566.71,815.74 567.22,816.85 567.72,817.90 568.23,818.89 568.73,819.83 569.24,820.72 569.74,821.56 570.24,822.35 570.75,823.09 571.25,823.78 571.76,824.43 572.26,825.04 572.77,825.61 573.27,826.15 573.78,826.64 574.28,827.11 574.78,827.54 575.29,827.94 575.79,828.31 576.30,828.66 576.80,828.98 577.31,829.27 577.81,829.55 578.32,829.80 578.82,830.03 579.32,830.24 579.83,830.44 580.33,830.62 580.84,830.79 581.34,830.94 581.85,831.08 582.35,831.21 582.86,831.32 583.36,831.43 583.86,831.52 584.37,831.61 584.87,831.69" fill="none" stroke="#B03C86" stroke-width="1.1"/>
<text transform="translate(534.00,607.37)" text-anchor="middle" font-size="18.310344827586206" font-weight="bold">XGBoost Model Errors</text>
<text transform="translate(534.00,875.33) scale(1.0,1.04)" text-anchor="middle" font-size="18.0051724137931">Error</text>
<text transform="translate(357.51,723.15) rotate(-90) scale(1.0,1.04)" text-anchor="middle" font-size="18.0051724137931">Density</text>
<rect x="575.35" y="629.85" width="39.80" height="19.56" fill="#FF41A3" stroke="#000" stroke-width="1.5"/>
<text transform="translate(620.38,645.80) scale(1.0,1.06)" font-size="18.106896551724137">Errors</text>
<text transform="translate(575.10,673.90) scale(1.0,1.06)" font-size="18.106896551724137">μ=0.02,σ=1.2</text>
</svg>
</body></html>
